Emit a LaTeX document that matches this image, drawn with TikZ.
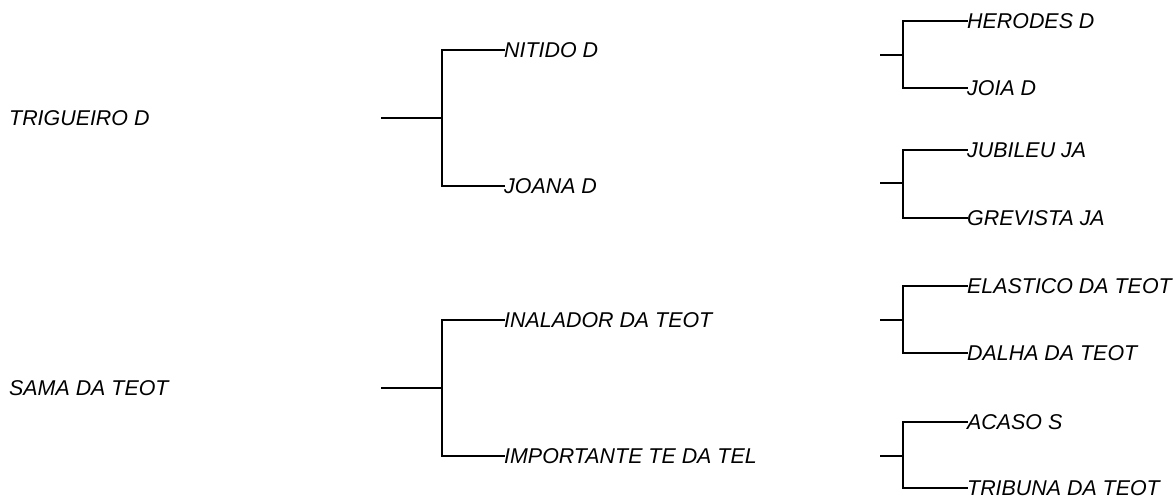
\documentclass[tikz,border=0pt]{standalone}
\usepackage{fontspec}
\setmainfont{Liberation Sans}
\begin{document}
\begin{tikzpicture}[x=1pt,y=-1pt,
  lbl/.style={anchor=west,inner sep=0pt,font=\itshape\fontsize{21.4}{21.4}\selectfont,text height=15.5pt,text depth=0pt},
  link/.style={line width=2.4pt,line cap=rect}]
\useasboundingbox (0,0) rectangle (1175,497);
% generation 1
\node[lbl] (trig) at (9,118) {TRIGUEIRO D};
\node[lbl] (sama) at (9,388) {SAMA DA TEOT};
% generation 2
\node[lbl] (nit) at (504,50) {NITIDO D};
\node[lbl] (joa) at (504,186) {JOANA D};
\node[lbl] (ina) at (504,320) {INALADOR DA TEOT};
\node[lbl] (imp) at (504,456) {IMPORTANTE TE DA TEL};
% generation 3
\node[lbl] (her) at (967,21) {HERODES D};
\node[lbl] (joi) at (967,88) {JOIA D};
\node[lbl] (jub) at (967,150) {JUBILEU JA};
\node[lbl] (gre) at (967,218) {GREVISTA JA};
\node[lbl] (ela) at (967,286) {ELASTICO DA TEOT};
\node[lbl] (dal) at (967,353) {DALHA DA TEOT};
\node[lbl] (aca) at (967,422) {ACASO S};
\node[lbl] (tri) at (967,488) {TRIBUNA DA TEOT};
% stubs and junctions
\coordinate (s1) at (382,118); \coordinate (j1) at (442,118);
\coordinate (s2) at (382,388); \coordinate (j2) at (442,388);
\coordinate (s3) at (881,55);  \coordinate (j3) at (903,55);
\coordinate (s4) at (881,183); \coordinate (j4) at (903,183);
\coordinate (s5) at (881,320); \coordinate (j5) at (903,320);
\coordinate (s6) at (881,456); \coordinate (j6) at (903,456);
\draw[link] (s1) -- (j1); \draw[link] (nit.west) -| (j1) |- (joa.west);
\draw[link] (s2) -- (j2); \draw[link] (ina.west) -| (j2) |- (imp.west);
\draw[link] (s3) -- (j3); \draw[link] (her.west) -| (j3) |- (joi.west);
\draw[link] (s4) -- (j4); \draw[link] (jub.west) -| (j4) |- (gre.west);
\draw[link] (s5) -- (j5); \draw[link] (ela.west) -| (j5) |- (dal.west);
\draw[link] (s6) -- (j6); \draw[link] (aca.west) -| (j6) |- (tri.west);
\end{tikzpicture}
\end{document}
